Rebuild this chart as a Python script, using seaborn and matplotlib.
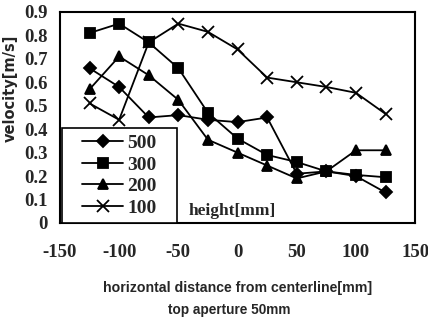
import matplotlib
matplotlib.use("Agg")
import matplotlib.pyplot as plt
from matplotlib.patches import Rectangle
import seaborn as sns
import pandas as pd

# horizontal positions of the probe [mm]
x_pos = [-125, -100, -75, -50, -25, 0, 25, 50, 75, 100, 125]

# velocity [m/s] for each measuring height [mm]
v_500 = [0.66, 0.58, 0.45, 0.46, 0.44, 0.43, 0.45, 0.21, 0.22, 0.20, 0.13]
v_300 = [0.81, 0.85, 0.77, 0.66, 0.47, 0.36, 0.29, 0.26, 0.22, 0.205, 0.195]
v_200 = [0.57, 0.71, 0.63, 0.525, 0.355, 0.30, 0.245, 0.19, 0.22, 0.31, 0.31]
v_100 = [0.51, 0.44, 0.77, 0.85, 0.815, 0.74, 0.62, 0.60, 0.58, 0.555, 0.465]

heights = ["500", "300", "200", "100"]
series = [v_500, v_300, v_200, v_100]

sns.set_style("white")
plt.rcParams["font.family"] = ["Liberation Serif", "DejaVu Serif"]
plt.rcParams["font.weight"] = "bold"
plt.rcParams["axes.unicode_minus"] = False

fig = plt.figure(figsize=(4.28, 3.22), dpi=100)
ax = fig.add_axes([0.140, 0.3075, 0.830, 0.6555])

markers = {"500": "D", "300": "s", "200": "^", "100": "x"}
msizes = {"500": 6, "300": 7, "200": 7, "100": 8}

for h, vals in zip(heights, series):
    df = pd.DataFrame({"x": x_pos, "velocity": vals})
    sns.lineplot(data=df, x="x", y="velocity", color="black", marker=markers[h],
                 markersize=msizes[h], markeredgewidth=1.3,
                 markeredgecolor="black", markerfacecolor="black",
                 linewidth=1.3, label=h, ax=ax)

ax.set_xlim(-150, 150)
ax.set_ylim(0, 0.9)
ax.set_xticks([-150, -100, -50, 0, 50, 100, 150])
ax.set_yticks([0, 0.1, 0.2, 0.3, 0.4, 0.5, 0.6, 0.7, 0.8, 0.9])
ax.set_yticklabels(["0", "0.1", "0.2", "0.3", "0.4", "0.5", "0.6", "0.7", "0.8", "0.9"])
ax.tick_params(axis="x", direction="in", length=4, pad=15, labelsize=13.5, width=1)
ax.tick_params(axis="y", direction="in", length=4, pad=9, labelsize=13.5, width=1)
for lbl in ax.get_xticklabels() + ax.get_yticklabels():
    lbl.set_fontweight("bold")

for sp in ax.spines.values():
    sp.set_visible(True)
    sp.set_color("black")
    sp.set_linewidth(1.5)

ax.set_xlabel("")
ax.set_ylabel("velocity[m/s]", fontsize=10.5, fontweight="bold",
              family=["DejaVu Sans"])
ax.yaxis.set_label_coords(-0.118, 0.64)

# legend box: a framed panel in the lower-left corner with the entries centred
box = (0.005, 0.0, 0.325, 0.45)
ax.add_patch(Rectangle(box[:2], box[2], box[3], transform=ax.transAxes,
                       facecolor="white", edgecolor="black", linewidth=1.2,
                       zorder=5))
handles, labels = ax.get_legend_handles_labels()
leg = ax.legend(handles, labels, loc="center", bbox_to_anchor=box,
                frameon=False, prop={"size": 14, "weight": "bold"},
                handlelength=2.1, handletextpad=0.2, labelspacing=0.2,
                borderpad=0.3, borderaxespad=0.0)
leg.set_zorder(6)

ax.text(0.362, 0.055, "height[mm]", transform=ax.transAxes, fontsize=12.5,
        fontweight="bold", ha="left", va="center")

label_font = ["Liberation Sans", "DejaVu Sans"]
fig.text(0.556, 0.105, "horizontal distance from centerline[mm]",
         ha="center", va="center", fontsize=10.2, fontweight="bold",
         family=label_font)
fig.text(0.535, 0.037, "top aperture 50mm", ha="center", va="center",
         fontsize=9.8, fontweight="bold", family=label_font)

fig.savefig("out.png", dpi=100)
